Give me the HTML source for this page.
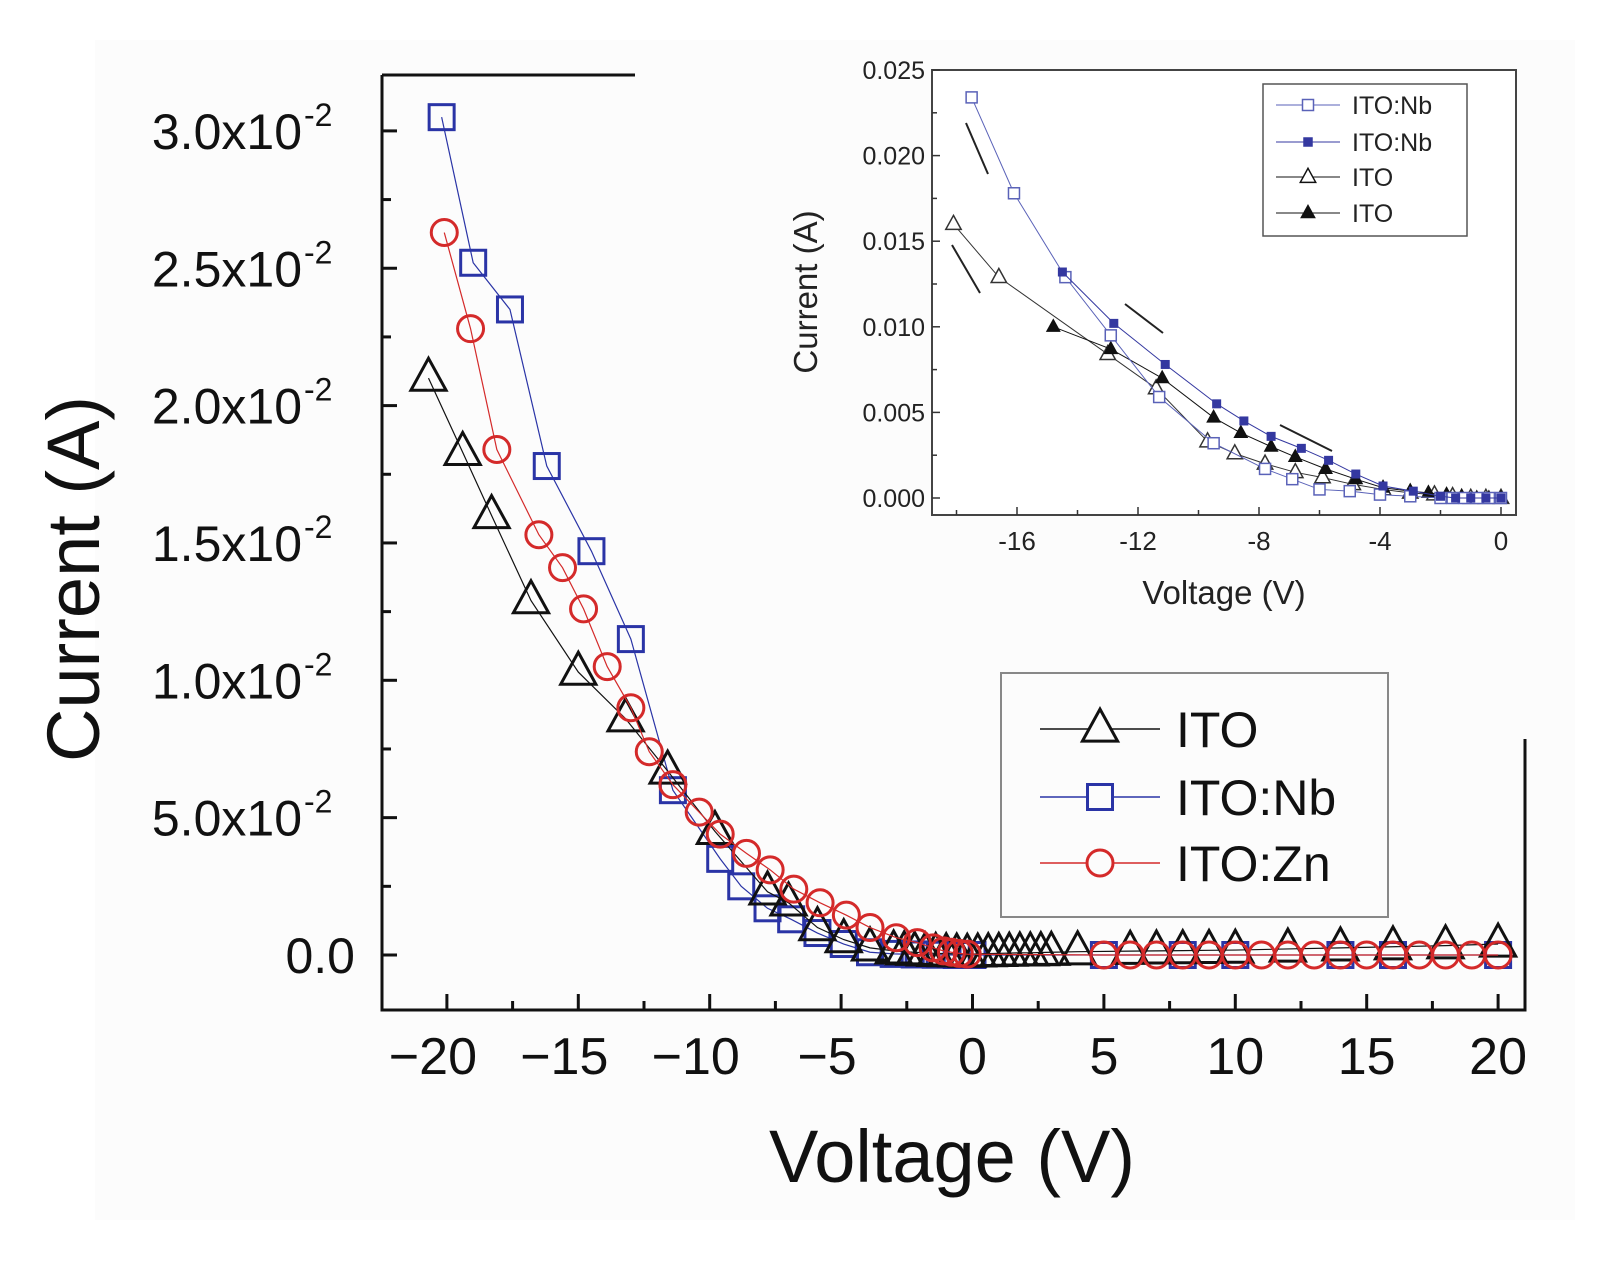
<!DOCTYPE html>
<html><head><meta charset="utf-8"><style>
html,body{margin:0;padding:0;background:#fff;}
svg{display:block;font-family:"Liberation Sans",sans-serif;}
</style></head><body>
<svg id="chart" width="1606" height="1279" viewBox="0 0 1606 1279">
<rect x="95" y="40" width="1480" height="1180" fill="#fcfcfc"/>
<g id="main"></g>
<g id="inset"></g>
</svg>
<script>
// ---- main plot data ----
const itoV = [-20.7,-19.4,-18.3,-16.8,-15.0,-13.2,-11.6,-9.8,-7.8,-7.0,-5.9,-4.9,-3.9,-3.0,-2.6,-2.2,-1.8,-1.4,-1.0,-0.6,-0.2,0.2,0.6,1.0,1.4,1.8,2.2,2.6,3.0,4,6,7,8,9,10,12,14,16,18,20];
const itoI = [2.10,1.83,1.60,1.29,1.03,0.86,0.67,0.45,0.23,0.19,0.10,0.056,0.026,0.015,0.012,0.01,0.008,0.006,0.005,0.004,0.003,0.004,0.005,0.006,0.007,0.008,0.008,0.009,0.01,0.012,0.014,0.015,0.016,0.017,0.018,0.022,0.026,0.03,0.034,0.04];
const nbV = [-20.2,-19.0,-17.6,-16.2,-14.5,-13.0,-11.4,-9.6,-8.8,-7.8,-6.9,-5.9,-4.9,-3.9,-3.0,-2.2,-1.4,-0.6,0,5,8,10,14,16,20];
const nbI = [3.05,2.52,2.35,1.78,1.47,1.15,0.60,0.35,0.25,0.17,0.13,0.08,0.04,0.01,0.004,0.002,0.001,0.0,0.0,0.0,0.0,0.0,0.0,0.0,0.0];
const znV = [-20.1,-19.1,-18.1,-16.5,-15.6,-14.8,-13.9,-13.0,-12.3,-11.4,-10.4,-9.6,-8.6,-7.7,-6.8,-5.8,-4.8,-3.9,-2.9,-2.1,-1.5,-1.1,-0.8,-0.5,-0.2,5,6,7,8,9,10,11,12,13,14,15,16,17,18,19,20];
const znI = [2.63,2.28,1.84,1.53,1.41,1.26,1.05,0.90,0.74,0.62,0.52,0.44,0.37,0.31,0.24,0.19,0.145,0.10,0.063,0.045,0.026,0.015,0.01,0.006,0.003,0,0,0,0,0,0,0,0,0,0,0,0,0,0,0,0];
const xTicks = [-20,-15,-10,-5,0,5,10,15,20];
const yTicks = [0,0.5,1.0,1.5,2.0,2.5,3.0];
const yTickLabels = ["0.0","5.0x10","1.0x10","1.5x10","2.0x10","2.5x10","3.0x10"];
// ---- inset data ----
const inNbOV = [-17.5,-16.1,-14.4,-12.9,-11.3,-9.5,-7.8,-6.9,-6.0,-5.0,-4.0,-3.0,-2.0,-1.6,-1.2,-0.8,-0.4,0];
const inNbOI = [0.0234,0.0178,0.0129,0.0095,0.0059,0.0032,0.0017,0.0011,0.0005,0.0004,0.0002,0.0001,0,0,0,0,0,0];
const inNbFV = [-14.5,-12.8,-11.1,-9.4,-8.5,-7.6,-6.6,-5.7,-4.8,-3.9,-2.9,-2.0,-1.5,-1.0,-0.5,0];
const inNbFI = [0.0132,0.0102,0.0078,0.0055,0.0045,0.0036,0.0029,0.0022,0.0014,0.0007,0.0004,0.0001,0,0,0,0];
const inItoOV = [-18.1,-16.6,-13.0,-11.4,-9.7,-8.8,-7.8,-6.8,-5.9,-4.9,-3.9,-3.0,-2.2,-1.6,-1.0,-0.5,0];
const inItoOI = [0.0160,0.0129,0.0084,0.0064,0.0033,0.0026,0.0020,0.0015,0.0012,0.0008,0.0005,0.0003,0.0002,0.0001,0,0,0];
const inItoFV = [-14.8,-12.9,-11.2,-9.5,-8.6,-7.6,-6.8,-5.8,-4.8,-3.9,-3.0,-2.4,-1.8,-1.3,-0.8,-0.4,0];
const inItoFI = [0.0100,0.0087,0.0070,0.0047,0.0038,0.0030,0.0024,0.0017,0.0011,0.0006,0.0004,0.0003,0.0002,0.0001,0,0,0];
const inXTicks = [-16,-12,-8,-4,0];
const inXLabels = ["-16","-12","-8","-4","0"];
const inYTicks = [0,0.005,0.010,0.015,0.020,0.025];
const inYLabels = ["0.000","0.005","0.010","0.015","0.020","0.025"];

const NS="http://www.w3.org/2000/svg";
function mk(parent,tag,attrs,text){const e=document.createElementNS(NS,tag);for(const k in attrs)e.setAttribute(k,attrs[k]);if(text!==undefined)e.textContent=text;parent.appendChild(e);return e;}

const mx = v => 972.5 + v*26.28;
const my = i => 955 - i*274.7;
const main=document.getElementById('main');
const BLACK="#111", BLUE="#2a34a6", RED="#d42a2a";

let ax=mk(main,'path',{d:"M382 75 V1010 H1525 V739",fill:"none",stroke:"#111","stroke-width":3});


let tl=mk(main,'line',{x1:382,y1:75,x2:635,y2:75,stroke:"#111","stroke-width":3});


for(let v=-20;v<=20;v+=2.5){const major=(v%5===0);
  const t=mk(main,'line',{x1:mx(v),x2:mx(v),y1:1010,y2:1010-(major?16:9),stroke:"#111","stroke-width":3});
  
  }
xTicks.forEach(v=>{const lab=(v<0?"\u2212":"")+Math.abs(v);
  const t=mk(main,'text',{x:mx(v)-(v<0?14:0),y:1074,"font-size":52,"text-anchor":"middle",fill:"#111"},lab);
  
  });
for(let k=0;k<=12;k++){const i=k*0.25;
  const t=mk(main,'line',{x1:382,x2:382+(k%2===0?15:9),y1:my(i),y2:my(i),stroke:"#111","stroke-width":3});
  
  }
yTicks.forEach((v,k)=>{
  const t=mk(main,'text',{x:k===0?355:302,y:my(v)+18,"font-size":50,"text-anchor":"end",fill:"#111"},yTickLabels[k]);
  
  
  if(k>0){const s=mk(main,'text',{x:304,y:my(v)-5,"font-size":32,fill:"#111"},"-2");
  
  }
});
let yt=mk(main,'text',{x:0,y:0,"font-size":74,"text-anchor":"middle",fill:"#111",transform:"translate(99,579) rotate(-90)"},"Current (A)");


let xt=mk(main,'text',{x:952,y:1182,"font-size":74,"text-anchor":"middle",fill:"#111"},"Voltage (V)");



function tri(g,x,y,s,col,fill,sw){return mk(g,'path',{d:`M${x} ${y-s*0.62} L${x+s*0.55} ${y+s*0.38} L${x-s*0.55} ${y+s*0.38} Z`,fill:fill,stroke:col,"stroke-width":sw});}
function sq(g,x,y,s,col,fill,sw){return mk(g,'rect',{x:x-s/2,y:y-s/2,width:s,height:s,fill:fill,stroke:col,"stroke-width":sw});}
function circ(g,x,y,s,col,fill,sw){return mk(g,'circle',{cx:x,cy:y,r:s/2,fill:fill,stroke:col,"stroke-width":sw});}

function series(parent,name,V,I,sx,sy,col,shape,size,fill,sw,lw){
  const g=mk(parent,'g',{});
  
  
  const pl=mk(g,'polyline',{points:V.map((v,k)=>sx(v)+","+sy(I[k])).join(" "),fill:"none",stroke:col,"stroke-width":lw});
  
  
  V.forEach((v,k)=>{const m=shape(g,sx(v),sy(I[k]),size,col,fill,sw);
    
    });
}
series(main,'ito-nb-series',nbV,nbI,mx,my,BLUE,sq,25,"none",3,1.2);
series(main,'ito-series',itoV,itoI,mx,my,BLACK,tri,32,"none",3,1.2);
series(main,'ito-zn-series',znV,znI,mx,my,RED,circ,26,"none",3,1.2);

const lg=mk(main,'g',{});


let lr=mk(lg,'rect',{x:1001,y:673,width:387,height:244,fill:"#fcfcfc",stroke:"#888","stroke-width":2});


[["ITO",BLACK,tri,32,729],["ITO:Nb",BLUE,sq,25,797],["ITO:Zn",RED,circ,26,863]].forEach(r=>{
  const e=mk(lg,'g',{});
  
  
  mk(e,'line',{x1:1040,x2:1160,y1:r[4],y2:r[4],stroke:r[1],"stroke-width":1.5});
  r[2](e,1100,r[4],r[3],r[1],"#fcfcfc",3);
  mk(e,'text',{x:1176,y:r[4]+18,"font-size":50,fill:"#111"},r[0]);
});

// ---- inset ----
const inset=document.getElementById('inset');
const ix = v => 1501 + v*30.25;
const iy = i => 498 - i*17120;
let ib=mk(inset,'rect',{x:932,y:70,width:584,height:445,fill:"#fff",stroke:"#444","stroke-width":2});


for(let v=-18;v<=0;v+=2){const major=(v%4===0);
  const t=mk(inset,'line',{x1:ix(v),x2:ix(v),y1:515,y2:515-(major?8:5),stroke:"#333","stroke-width":1.5});
  
  }
inXTicks.forEach((v,k)=>{const t=mk(inset,'text',{x:ix(v),y:550,"font-size":26,"text-anchor":"middle",fill:"#222"},inXLabels[k]);
  
  });
for(let k=0;k<=10;k++){const t=mk(inset,'line',{x1:932,x2:932+(k%2===0?8:5),y1:iy(k*0.0025),y2:iy(k*0.0025),stroke:"#333","stroke-width":1.5});
  
  }
inYTicks.forEach((v,k)=>{const t=mk(inset,'text',{x:925,y:iy(v)+9,"font-size":25,"text-anchor":"end",fill:"#222"},inYLabels[k]);
  
  });
let iyt=mk(inset,'text',{x:0,y:0,"font-size":33,"text-anchor":"middle",fill:"#222",transform:"translate(817,292) rotate(-90)"},"Current (A)");


let ixt=mk(inset,'text',{x:1224,y:604,"font-size":33,"text-anchor":"middle",fill:"#222"},"Voltage (V)");


const IB="#3438a0", IBo="#5a62b8";
series(inset,'inset-ito-open',inItoOV,inItoOI,ix,iy,"#333",tri,14,"#fff",1.5,1);
series(inset,'inset-ito-filled',inItoFV,inItoFI,ix,iy,"#111",tri,12,"#111",1,1);
series(inset,'inset-nb-open',inNbOV,inNbOI,ix,iy,IBo,sq,11,"#fff",1.5,1);
series(inset,'inset-nb-filled',inNbFV,inNbFI,ix,iy,IB,sq,8,IB,1,1);
[[966,123,988,174],[952,245,980,293],[1125,304,1163,333],[1280,425,1332,451]].forEach(a=>{
  const l=mk(inset,'line',{x1:a[0],y1:a[1],x2:a[2],y2:a[3],stroke:"#222","stroke-width":2});
  
  });
const ilg=mk(inset,'g',{});


mk(ilg,'rect',{x:1263,y:84,width:204,height:152,fill:"#fff",stroke:"#555","stroke-width":1.5});
[["ITO:Nb",IBo,sq,11,"#fff",105],["ITO:Nb",IB,sq,8,IB,142],["ITO",BLACK,tri,14,"#fff",177],["ITO",BLACK,tri,12,BLACK,213]].forEach(r=>{
  const e=mk(ilg,'g',{});
  
  
  mk(e,'line',{x1:1276,x2:1340,y1:r[5],y2:r[5],stroke:r[1],"stroke-width":1});
  r[2](e,1308,r[5],r[3],r[1],r[4],1.5);
  mk(e,'text',{x:1352,y:r[5]+9,"font-size":25,fill:"#222"},r[0]);
});
</script>
</body></html>
